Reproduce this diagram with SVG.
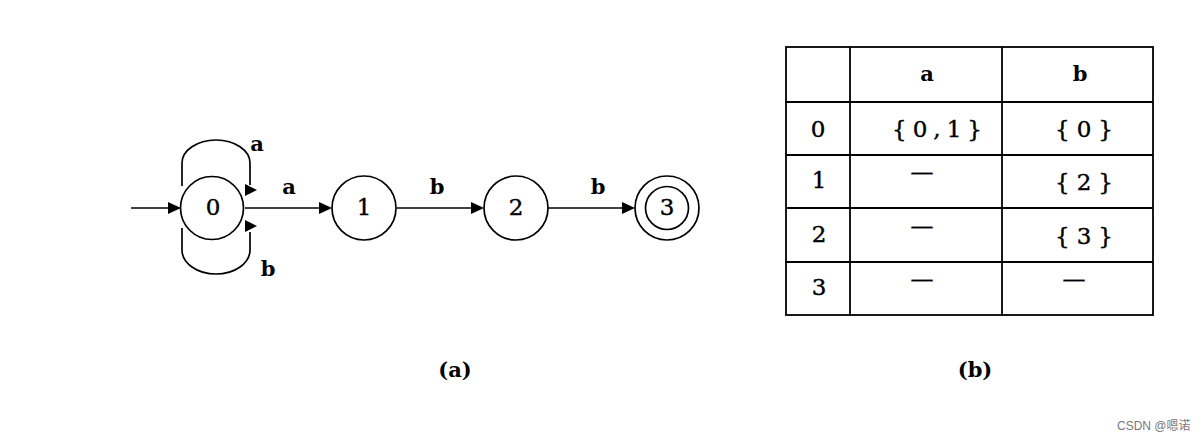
<svg xmlns="http://www.w3.org/2000/svg" width="1200" height="443" viewBox="0 0 1200 443">
<style>
.st{fill:none;stroke:#000;stroke-width:1.7}
.ln{fill:none;stroke:#000;stroke-width:1.7}
.ah{fill:#000}
.num{font-family:"DejaVu Serif","Liberation Serif",serif;font-size:23px;fill:#000;stroke:#000;stroke-width:0.4;text-anchor:middle}
.lbl{font-family:"DejaVu Serif","Liberation Serif",serif;font-size:21px;font-weight:bold;fill:#000;text-anchor:middle}
.grid{stroke:#000;stroke-width:1.8;fill:none}
.wm{font-family:"Liberation Sans","Noto Sans CJK SC",sans-serif;font-size:12px;fill:#777}
</style>
<rect width="1200" height="443" fill="#fff"/>

<g id="connectors">
  <line class="ln" x1="131" y1="208" x2="170" y2="208"/>
  <polygon class="ah" points="181,208 168,202 168,214"/>
  <path class="ln" d="M182,186 L182,163 A34,23 0 0 1 250,163 L250,185"/>
  <polygon class="ah" points="245,184 245,196 257,190"/>
  <path class="ln" d="M182,228 L182,250 A34,24 0 0 0 250,250 L250,232"/>
  <polygon class="ah" points="245,220 245,232 257,226"/>
  <line class="ln" x1="245" y1="208" x2="322" y2="208"/>
  <polygon class="ah" points="332,208 319,202 319,214"/>
  <line class="ln" x1="397" y1="208" x2="474" y2="208"/>
  <polygon class="ah" points="484,208 471,202 471,214"/>
  <line class="ln" x1="548" y1="208" x2="625" y2="208"/>
  <polygon class="ah" points="635,208 622,202 622,214"/>
  <text class="lbl" x="257" y="151">a</text>
  <text class="lbl" x="289" y="194">a</text>
  <text class="lbl" x="268" y="276">b</text>
  <text class="lbl" x="437" y="194">b</text>
  <text class="lbl" x="598" y="194">b</text>
</g>

<g id="node0">
  <circle class="st" cx="212" cy="208" r="31.5"/>
  <text class="num" x="213" y="215">0</text>
</g>
<g id="node1">
  <circle class="st" cx="364" cy="208" r="32"/>
  <text class="num" x="364" y="215">1</text>
</g>
<g id="node2">
  <circle class="st" cx="516" cy="208" r="32"/>
  <text class="num" x="516" y="215">2</text>
</g>
<g id="node3">
  <circle class="st" cx="667" cy="208" r="32"/>
  <circle class="st" cx="667" cy="208" r="21.5"/>
  <text class="num" x="667" y="215">3</text>
</g>

<g id="table">
  <rect class="grid" x="786" y="47" width="367" height="268" stroke-width="2"/>
  <line class="grid" x1="850" y1="47" x2="850" y2="315"/>
  <line class="grid" x1="1002" y1="47" x2="1002" y2="315"/>
  <line class="grid" x1="786" y1="102" x2="1153" y2="102"/>
  <line class="grid" x1="786" y1="155" x2="1153" y2="155"/>
  <line class="grid" x1="786" y1="208" x2="1153" y2="208"/>
  <line class="grid" x1="786" y1="262" x2="1153" y2="262"/>
  <text class="lbl" x="927" y="81" font-size="22">a</text>
  <text class="lbl" x="1080" y="81" font-size="22">b</text>
  <text class="num" x="818" y="137">0</text>
  <text class="num" x="819" y="188">1</text>
  <text class="num" x="819" y="242">2</text>
  <text class="num" x="819" y="295">3</text>
  <text class="num" x="937" y="137" textLength="90" lengthAdjust="spacing">{0,1}</text>
  <text class="num" x="1084" y="137" textLength="58" lengthAdjust="spacing">{0}</text>
  <text class="num" x="922" y="180">—</text>
  <text class="num" x="1084" y="190" textLength="58" lengthAdjust="spacing">{2}</text>
  <text class="num" x="922" y="234">—</text>
  <text class="num" x="1084" y="244" textLength="58" lengthAdjust="spacing">{3}</text>
  <text class="num" x="922" y="287">—</text>
  <text class="num" x="1074" y="287">—</text>
</g>

<g id="captions">
  <text class="lbl" x="455" y="377">(a)</text>
  <text class="lbl" x="975" y="377">(b)</text>
</g>
<text class="wm" x="1117" y="430">CSDN @嗯诺</text>
</svg>
